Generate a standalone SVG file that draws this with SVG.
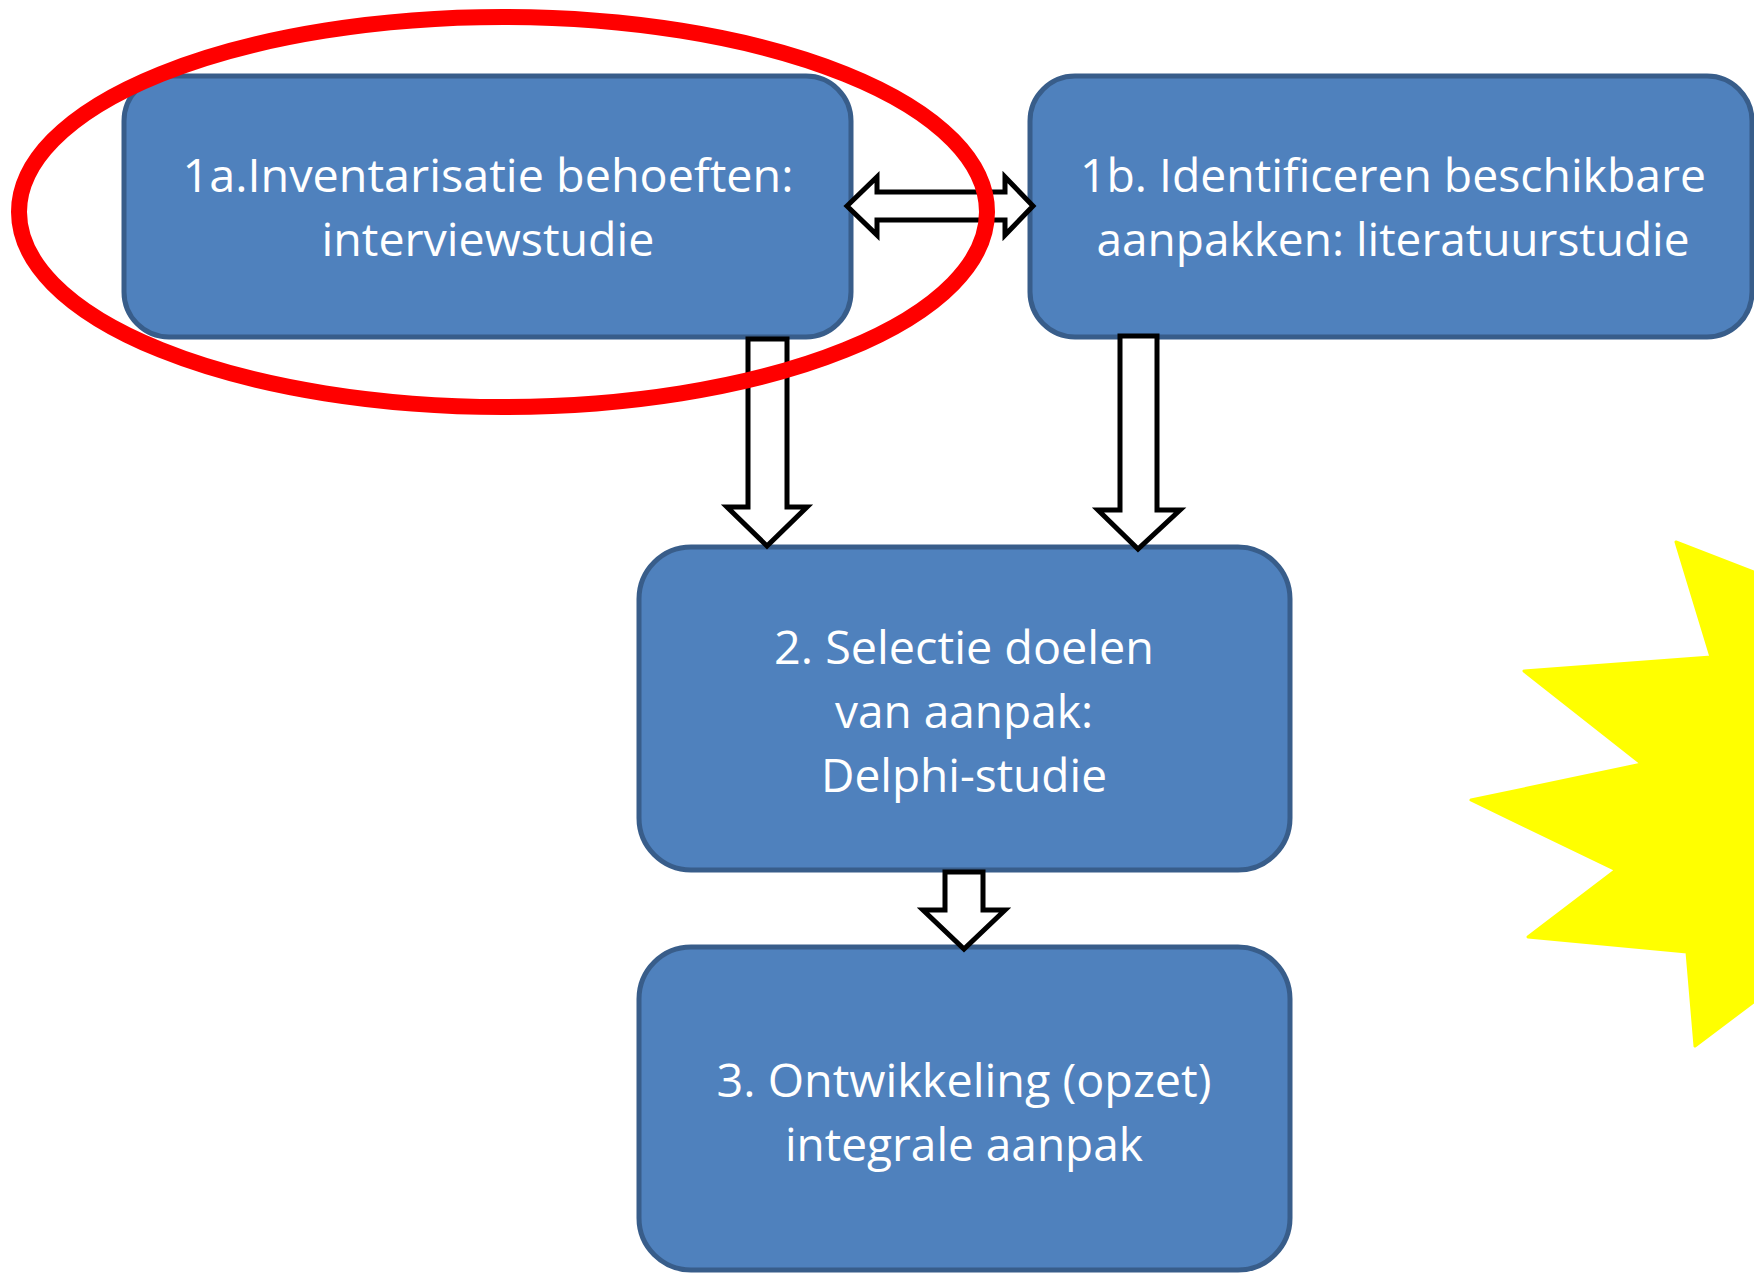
<svg xmlns="http://www.w3.org/2000/svg" width="1754" height="1276" viewBox="0 0 1754 1276">
<style>
.box{fill:#4F81BD;stroke:#385D8A;stroke-width:5}
.lbl{font-family:"Open Sans","Noto Sans","Liberation Sans",sans-serif;font-size:46px;fill:#FFFFFF;text-anchor:middle}
.arr{fill:#FFFFFF;stroke:#000000;stroke-width:5;stroke-linejoin:miter}
</style>
<rect width="1754" height="1276" fill="#FFFFFF"/>
<g id="star">
<polygon points="1676,542 1800,590 1800,967 1695,1046 1687,952 1528,937 1616,870 1471,800 1642,764 1524,671 1711,657" fill="#FFFF00" stroke="#FFFF00" stroke-width="3" stroke-linejoin="round"/>
</g>
<g id="node-1a">
<rect class="box" x="124" y="76" width="727" height="261" rx="45" ry="45"/>
<text class="lbl" x="488" y="192" textLength="611" lengthAdjust="spacingAndGlyphs">1a.Inventarisatie behoeften:</text>
<text class="lbl" x="488" y="256" textLength="333" lengthAdjust="spacingAndGlyphs">interviewstudie</text>
</g>
<g id="node-1b">
<rect class="box" x="1030" y="76" width="722" height="261" rx="45" ry="45"/>
<text class="lbl" x="1393" y="192" textLength="626" lengthAdjust="spacingAndGlyphs">1b. Identificeren beschikbare</text>
<text class="lbl" x="1393" y="256" textLength="593" lengthAdjust="spacingAndGlyphs">aanpakken: literatuurstudie</text>
</g>
<g id="node-2">
<rect class="box" x="639" y="547" width="651" height="323" rx="52" ry="52"/>
<text class="lbl" x="964" y="664" textLength="380" lengthAdjust="spacingAndGlyphs">2. Selectie doelen</text>
<text class="lbl" x="964" y="728" textLength="258" lengthAdjust="spacingAndGlyphs">van aanpak:</text>
<text class="lbl" x="964" y="792" textLength="286" lengthAdjust="spacingAndGlyphs">Delphi-studie</text>
</g>
<g id="node-3">
<rect class="box" x="639" y="947" width="651" height="323" rx="52" ry="52"/>
<text class="lbl" x="964" y="1097" textLength="495" lengthAdjust="spacingAndGlyphs">3. Ontwikkeling (opzet)</text>
<text class="lbl" x="964" y="1161" textLength="358" lengthAdjust="spacingAndGlyphs">integrale aanpak</text>
</g>
<g id="connectors">
<polygon class="arr" points="847,206 877,177 877,192 1005,192 1005,177 1033,206 1005,235 1005,220 877,220 877,235"/>
<polygon class="arr" points="748,339 787,339 787,507 807,507 767,546 727,507 748,507"/>
<polygon class="arr" points="1120,336 1157,336 1157,510 1180,510 1138,549 1098,510 1120,510"/>
<polygon class="arr" points="945,872 983,872 983,910 1005,910 964,949 923,910 945,910"/>
</g>
<g id="highlight">
<ellipse cx="503" cy="212" rx="484" ry="195" fill="none" stroke="#FF0000" stroke-width="16"/>
</g>
</svg>
